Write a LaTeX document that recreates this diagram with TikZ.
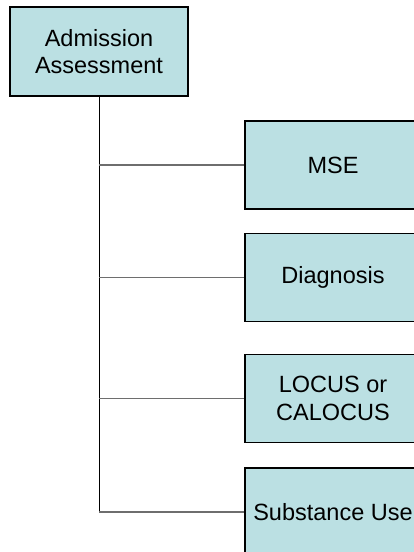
\documentclass[tikz,border=0pt]{standalone}
\usepackage{fontspec}
\setmainfont{Liberation Sans}
\definecolor{boxfill}{HTML}{BBE0E3}
\definecolor{branchgray}{HTML}{6E6E6E}
\tikzset{
  orgbox/.style={draw=black, fill=boxfill, line width=1.1pt, inner sep=0pt,
    minimum width=176pt, minimum height=88pt, align=center,
    font=\fontsize{23.5}{27.5}\selectfont},
  trunk/.style={draw=black, line width=1pt},
  branch/.style={draw=branchgray, line width=1.4pt}
}
\begin{document}
\begin{tikzpicture}[x=1pt,y=-1pt]
\useasboundingbox (0,0) rectangle (414,552);
\node[orgbox, minimum width=178pt, minimum height=89pt] (top) at (99,51.5) {Admission\\Assessment};
\node[orgbox] (mse) at (333,165) {MSE};
\node[orgbox] (diag) at (333,277.5) {Diagnosis};
\node[orgbox] (locus) at (333,398.5) {LOCUS or\\CALOCUS};
\node[orgbox] (sub) at (333,512) {Substance Use};
\draw[trunk] (top.south) -- (top.south |- sub.west);
\draw[branch] (top.south |- mse.west) -- (mse.west);
\draw[branch] (top.south |- diag.west) -- (diag.west);
\draw[branch] (top.south |- locus.west) -- (locus.west);
\draw[branch] (top.south |- sub.west) -- (sub.west);
\end{tikzpicture}
\end{document}
